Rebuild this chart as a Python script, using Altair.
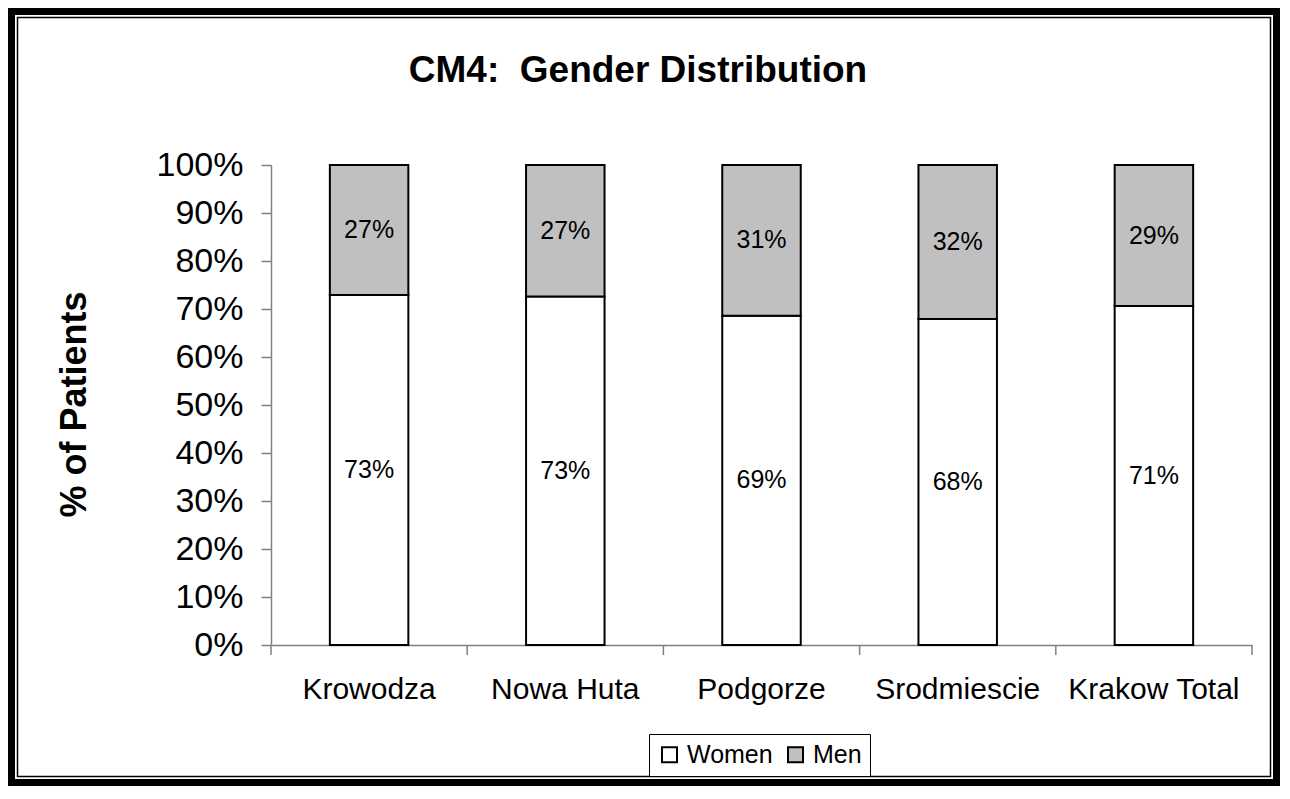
import altair as alt
import pandas as pd

# ---- data ----
districts = ["Krowodza", "Nowa Huta", "Podgorze", "Srodmiescie", "Krakow Total"]
women = [72.9, 72.6, 68.6, 67.9, 70.6]
men = [27.1, 27.4, 31.4, 32.1, 29.4]
genders = ["Women", "Men"]
gender_colors = ["#FFFFFF", "#C0C0C0"]
y_ticks = [0, 10, 20, 30, 40, 50, 60, 70, 80, 90, 100]
category_boundaries = [0, 1, 2, 3, 4, 5]
title_text = "CM4: \u00a0Gender Distribution"
y_title = "% of Patients"

rows = []
for d, w, m in zip(districts, women, men):
    rows.append({"district": d, "gender": "Women", "order": 0, "value": w})
    rows.append({"district": d, "gender": "Men", "order": 1, "value": m})
df = pd.DataFrame(rows)

FONT = "Liberation Sans"
W, H = 981, 480
AXIS_GRAY = "#808080"

x_axis = alt.Axis(
    title=None, labelAngle=0, tickSize=10, tickColor="transparent",
    labelFontSize=30, labelPadding=19, labelColor="black", labelFont=FONT,
    domainColor=AXIS_GRAY, domainWidth=1.5,
)
x_scale = alt.Scale(paddingInner=0.6, paddingOuter=0.3)
y_axis = alt.Axis(
    values=y_ticks, labelExpr="datum.value + '%'", grid=False,
    title=y_title, titleFont=FONT, titleFontSize=36, titleFontWeight="bold",
    titleColor="black", titleAngle=270, titleX=-197, titleY=239,
    titleBaseline="middle", titleAlign="center",
    tickSize=10, labelFontSize=34, labelPadding=18, labelColor="black", labelFont=FONT,
    domainColor=AXIS_GRAY, domainWidth=1.5, tickColor=AXIS_GRAY, tickWidth=1.5,
)

base = alt.Chart(df).transform_stack(
    stack="value", as_=["y0", "y1"], groupby=["district"],
    sort=[alt.SortField("order", order="ascending")],
).transform_calculate(
    mid="(datum.y0 + datum.y1) / 2",
    label="format(datum.value / 100, '.0%')",
)

bars = base.mark_bar(stroke="black", strokeWidth=2).encode(
    x=alt.X("district:N", sort=districts, scale=x_scale, axis=x_axis),
    y=alt.Y("y0:Q", scale=alt.Scale(domain=[0, 100]), axis=y_axis),
    y2="y1:Q",
    color=alt.Color(
        "gender:N",
        scale=alt.Scale(domain=genders, range=gender_colors),
        legend=alt.Legend(
            title=None, orient="none", legendX=378, legendY=569,
            direction="horizontal", padding=8, strokeColor="black", fillColor="white",
            labelFontSize=25, labelFont=FONT, labelColor="black", labelOffset=5,
            symbolType="square", symbolSize=225, symbolStrokeColor="black",
            symbolStrokeWidth=2, symbolOpacity=1, columnPadding=10,
        ),
    ),
)

labels = base.mark_text(fontSize=25, font=FONT, color="black", baseline="middle").encode(
    x=alt.X("district:N", sort=districts, scale=x_scale, axis=x_axis),
    y=alt.Y("mid:Q", axis=y_axis),
    text="label:N",
)

# x-axis ticks between categories (Excel style)
ticks = alt.Chart(pd.DataFrame({"b": category_boundaries})).mark_rule(
    color=AXIS_GRAY, strokeWidth=1.5
).encode(
    x=alt.X("b:Q", scale=alt.Scale(domain=[0, len(districts)], nice=False, zero=False), axis=None),
    y=alt.value(H), y2=alt.value(H + 10),
)

title_df = pd.DataFrame({"t": [title_text]})
title = alt.Chart(title_df).mark_text(
    fontSize=37, fontWeight="bold", font=FONT, align="center", baseline="alphabetic", color="black"
).encode(x=alt.value(367), y=alt.value(-83), text="t:N")

frame_df = pd.DataFrame({"k": [0]})
outer = alt.Chart(frame_df).mark_rect(fill="transparent", stroke="black", strokeWidth=7).encode(
    x=alt.value(-259.5), x2=alt.value(1005.5), y=alt.value(-153.5), y2=alt.value(617.5)
)
inner = alt.Chart(frame_df).mark_rect(fill="transparent", stroke="black", strokeWidth=1.5).encode(
    x=alt.value(-253.5), x2=alt.value(999.5), y=alt.value(-147.5), y2=alt.value(611.5)
)

chart = alt.layer(alt.layer(bars, labels), ticks, title, outer, inner).resolve_scale(
    x="independent"
).properties(
    width=W, height=H,
    autosize=alt.AutoSizeParams(type="none"),
    padding={"left": 263, "top": 157, "right": 28, "bottom": 141},
    background="white",
).configure(font=FONT).configure_view(stroke="transparent", strokeWidth=0)

chart.save("out.html", embed_options={"renderer": "svg", "actions": False})
